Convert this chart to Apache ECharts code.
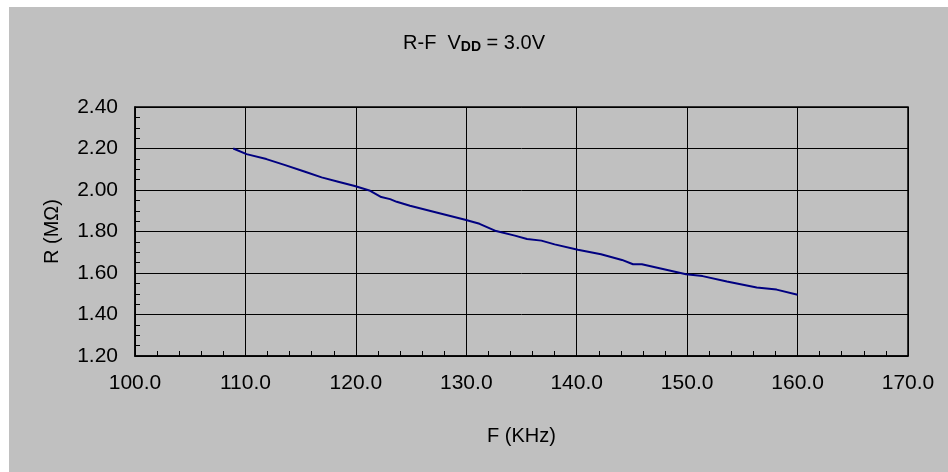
<!DOCTYPE html>
<html>
<head>
<meta charset="utf-8">
<script src="https://cdn.jsdelivr.net/npm/echarts@6/dist/echarts.min.js"></script>
<style>
html,body{margin:0;padding:0;background:#fff;}
#main{width:948px;height:472px;}
</style>
</head>
<body>
<div id="main"></div>
<script>
// Frequency F (KHz)
var freq = [108.9,110.1,111.9,113.6,115.4,116.9,118.4,119.9,121.3,122.3,123.1,123.7,124.9,127.3,129.9,131.2,132.7,134.4,135.5,136.8,138.0,140.1,142.2,144.1,145.1,145.9,147.5,149.9,151.4,153.6,156.3,158.1,160.0];
// Resistance R (MΩ)
var resist = [2.200,2.173,2.149,2.120,2.088,2.061,2.040,2.019,1.996,1.966,1.956,1.943,1.924,1.892,1.857,1.837,1.802,1.780,1.764,1.756,1.738,1.712,1.690,1.663,1.642,1.642,1.623,1.594,1.585,1.559,1.530,1.520,1.495];

var seriesData = freq.map(function(f, i){ return [f, resist[i]]; });
var FONT = '"Liberation Sans", Arial, sans-serif';

var chart = echarts.init(document.getElementById('main'), null, {renderer:'canvas'});
chart.setOption({
  backgroundColor: '#ffffff',
  animation: false,
  graphic: [{
    type: 'rect', z: -10, silent: true,
    shape: {x: 9, y: 7, width: 960, height: 480},
    style: {fill: '#c0c0c0'}
  }],
  title: {
    text: 'R-F  V{sub|DD} = 3.0V',
    left: 'center', top: 28,
    textStyle: {
      fontFamily: FONT, fontSize: 20, fontWeight: 'normal', color: '#000',
      rich: { sub: {fontFamily: FONT, fontSize: 14, fontWeight: 'bold', color: '#000', verticalAlign: 'bottom', padding:[7,0,0,0]} }
    }
  },
  grid: {left: 135, right: 40, top: 107, bottom: 116, show: true, borderColor: '#000', borderWidth: 1.5, backgroundColor: 'transparent'},
  xAxis: {
    type: 'value', min: 100, max: 170, interval: 10,
    name: 'F (KHz)', nameLocation: 'middle', nameGap: 70,
    nameTextStyle: {fontFamily: FONT, fontSize: 20, color: '#000'},
    axisLine: {show: true, lineStyle: {color: '#000', width: 1.5}},
    axisTick: {show: true, inside: true, length: 5, lineStyle: {color: '#000'}},
    minorTick: {show: true, splitNumber: 5, length: 5, lineStyle: {color: '#000'}},
    splitLine: {show: true, lineStyle: {color: '#000', width: 1}},
    axisLabel: {fontFamily: FONT, fontSize: 21, color: '#000', margin: 17, formatter: function(v){ return v.toFixed(1); }}
  },
  yAxis: {
    type: 'value', min: 1.2, max: 2.4, interval: 0.2,
    name: 'R (MΩ)', nameLocation: 'middle', nameGap: 73, nameRotate: 90,
    nameTextStyle: {fontFamily: FONT, fontSize: 20, color: '#000'},
    axisLine: {show: true, lineStyle: {color: '#000', width: 1.5}},
    axisTick: {show: true, inside: true, length: 5, lineStyle: {color: '#000'}},
    minorTick: {show: true, splitNumber: 4, length: 5, lineStyle: {color: '#000'}},
    splitLine: {show: true, lineStyle: {color: '#000', width: 1}},
    axisLabel: {fontFamily: FONT, fontSize: 21, color: '#000', margin: 17, formatter: function(v){ return v.toFixed(2); }}
  },
  series: [{
    type: 'line', data: seriesData, showSymbol: false, symbol: 'none',
    lineStyle: {color: '#000080', width: 2}, smooth: false
  }]
});
</script>
</body>
</html>
